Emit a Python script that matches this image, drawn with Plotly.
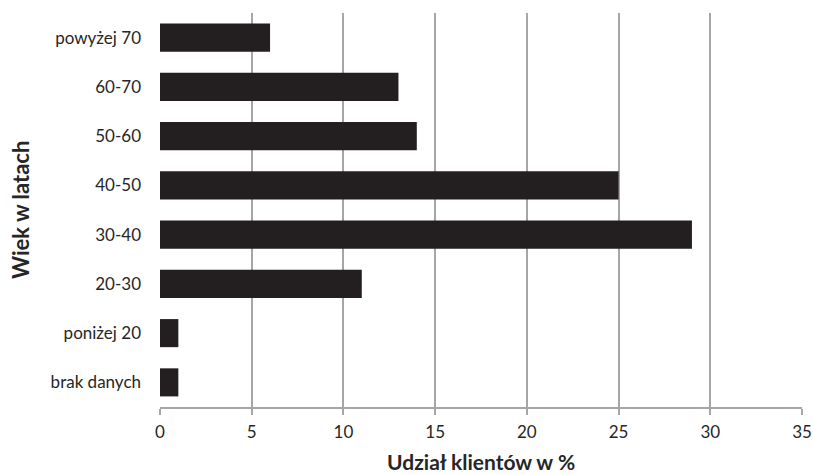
import plotly.graph_objects as go

# Age groups (bottom to top) and share of clients in percent
categories = ["brak danych", "poniżej 20", "20-30", "30-40", "40-50", "50-60", "60-70", "powyżej 70"]
shares = [1, 1, 11, 29, 25, 14, 13, 6]
x_ticks = [0, 5, 10, 15, 20, 25, 30, 35]

FONT = "Lato, 'Open Sans', sans-serif"
GRID = "#a6a6a6"
TEXT = "#262626"

fig = go.Figure(
    go.Bar(
        x=shares,
        y=categories,
        orientation="h",
        marker=dict(color="#231f20", line=dict(width=0)),
        hoverinfo="x+y",
    )
)

fig.update_layout(
    width=813,
    height=475,
    margin=dict(l=160, r=11, t=13, b=68),
    paper_bgcolor="white",
    plot_bgcolor="white",
    bargap=0.43,
    showlegend=False,
    font=dict(family=FONT, size=17, color=TEXT),
)

fig.update_xaxes(
    range=[0, 35],
    tickvals=x_ticks,
    ticktext=[str(v) for v in x_ticks],
    automargin=False,
    showgrid=True,
    gridcolor=GRID,
    gridwidth=1.5,
    zeroline=False,
    showline=True,
    linecolor=GRID,
    linewidth=1.5,
    ticks="outside",
    ticklen=6,
    tickwidth=1.5,
    tickcolor=GRID,
    ticklabelstandoff=3,
    tickfont=dict(size=17, color=TEXT),
)

fig.update_yaxes(
    categoryorder="array",
    categoryarray=categories,
    automargin=False,
    showgrid=False,
    zeroline=False,
    showline=False,
    ticks="",
    ticklabelstandoff=18,
    tickfont=dict(size=17, color=TEXT),
)

# Axis titles
fig.add_annotation(
    text="<b>Udział klientów w %</b>",
    xref="paper", yref="paper",
    x=0.5, y=-0.138, yanchor="middle", xanchor="center",
    showarrow=False,
    font=dict(family=FONT, size=21, color=TEXT),
)
fig.add_annotation(
    text="<b>Wiek w latach</b>",
    xref="paper", yref="paper",
    x=-0.218, y=0.5, xanchor="center", yanchor="middle",
    textangle=-90,
    showarrow=False,
    font=dict(family=FONT, size=22, color=TEXT),
)

fig.write_html("out.html")
